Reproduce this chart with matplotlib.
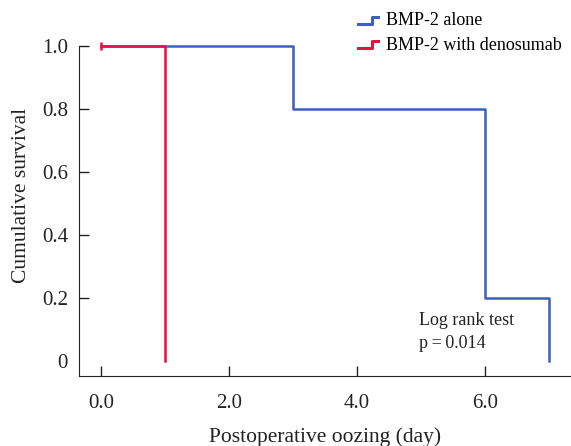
import matplotlib
matplotlib.use('Agg')
import matplotlib.pyplot as plt
from matplotlib.lines import Line2D
from matplotlib.legend_handler import HandlerBase

plt.rcParams['font.family'] = ['Liberation Serif', 'DejaVu Serif']

# survival steps (day, cumulative survival)
alone_t = [0, 3, 3, 6, 6, 7, 7]
alone_s = [1.0, 1.0, 0.8, 0.8, 0.2, 0.2, 0.0]
deno_t = [0, 1, 1]
deno_s = [1.0, 1.0, 0.0]
censor_t = [0]
censor_s = [1.0]

xticks = [0, 2, 4, 6]
xlabels = ['0.0', '2.0', '4.0', '6.0']
yticks = [0, 0.2, 0.4, 0.6, 0.8, 1.0]
ylabels = ['0', '0.2', '0.4', '0.6', '0.8', '1.0']

blue = '#3f5fbf'
red = '#e3143d'
dark = '#222222'


class StepHandler(HandlerBase):
    # small step shaped legend key
    def create_artists(self, legend, orig, xd, yd, w, h, fontsize, trans):
        x = [xd, xd + w * 0.7, xd + w * 0.7, xd + w]
        y = [yd + h * 0.15, yd + h * 0.15, yd + h * 0.7, yd + h * 0.7]
        ln = Line2D(x, y, color=orig.get_color(), lw=2.2, transform=trans)
        return [ln]


fig = plt.figure(figsize=(5.71, 4.46), dpi=100)
ax = fig.add_axes([79 / 571, 70 / 446, 1 - 79 / 571, 361 / 446])

l1, = ax.plot(alone_t, alone_s, color=blue, lw=1.8)
l2, = ax.plot(deno_t, deno_s, color=red, lw=1.8)
ax.plot(censor_t, censor_s, color=red, marker='|', ms=6, mew=1.8, ls='none')

ax.set_xlim(-0.344, 7.34)
ax.set_ylim(-0.048, 1.1)
ax.spines['top'].set_visible(False)
ax.spines['right'].set_visible(False)
ax.spines['left'].set_bounds(-0.048, 1.0)
ax.spines['left'].set_color(dark)
ax.spines['bottom'].set_color(dark)

ax.set_xticks(xticks)
ax.set_xticklabels(xlabels)
ax.set_yticks(yticks)
ax.set_yticklabels(ylabels)
ax.tick_params(axis='both', direction='in', length=7, width=1, colors=dark,
               labelsize=15, labelcolor=dark)
ax.tick_params(axis='x', pad=13)
ax.tick_params(axis='y', pad=8)
ax.yaxis.get_major_ticks()[0].tick1line.set_visible(False)

ax.set_xlabel('Postoperative oozing (day)', fontsize=15.5, color=dark, labelpad=10)
ax.set_ylabel('Cumulative survival', fontsize=15.5, color=dark, labelpad=8)

ax.text(4.97, 0.127, 'Log rank test', fontsize=13, va='center', color=dark)
ax.text(4.97, 0.054, 'p\u2009=\u20090.014', fontsize=13, va='center', color=dark)

ax.legend([l1, l2], ['BMP-2 alone', 'BMP-2 with denosumab'],
          handler_map={l1: StepHandler(), l2: StepHandler()},
          loc='upper right', bbox_to_anchor=(0.995, 1.027), frameon=False,
          fontsize=13, handlelength=1.15, handletextpad=0.4, labelspacing=0.4,
          borderaxespad=0)

fig.savefig('out.png', dpi=100)
